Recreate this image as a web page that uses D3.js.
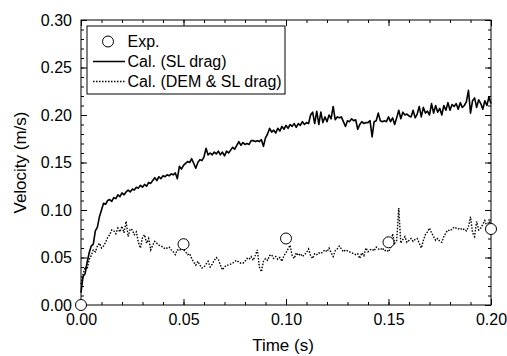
<!DOCTYPE html>
<html><head><meta charset="utf-8">
<script src="https://cdn.jsdelivr.net/npm/d3@7"></script>
<style>
body{margin:0;background:#fff;}
svg{display:block;font-family:Arial,"Liberation Sans",sans-serif;}
</style></head>
<body><svg id="c" width="507" height="356"></svg>
<script>
// time step 0.001 s, t = 0.000 .. 0.200
const timeStart = 0, timeStep = 0.001;
const slDrag = [
0.013,0.030,0.033,0.045,0.055,0.062,0.064,0.078,0.082,0.093,
0.100,0.107,0.106,0.110,0.111,0.109,0.113,0.112,0.116,0.114,
0.118,0.116,0.119,0.121,0.119,0.122,0.121,0.124,0.123,0.126,
0.124,0.127,0.125,0.129,0.128,0.131,0.134,0.131,0.135,0.133,
0.136,0.135,0.137,0.136,0.138,0.137,0.139,0.133,0.146,0.143,
0.147,0.149,0.151,0.150,0.154,0.149,0.144,0.150,0.153,0.152,
0.156,0.165,0.158,0.160,0.158,0.161,0.159,0.162,0.158,0.161,
0.157,0.162,0.160,0.163,0.166,0.164,0.168,0.172,0.168,0.171,
0.169,0.170,0.169,0.173,0.173,0.172,0.173,0.172,0.174,0.167,
0.176,0.180,0.186,0.182,0.184,0.181,0.186,0.183,0.188,0.185,
0.189,0.186,0.190,0.188,0.191,0.187,0.191,0.189,0.193,0.190,
0.192,0.191,0.200,0.203,0.191,0.204,0.190,0.203,0.192,0.198,
0.193,0.200,0.196,0.209,0.195,0.198,0.197,0.198,0.193,0.188,
0.194,0.193,0.196,0.194,0.195,0.185,0.190,0.193,0.191,0.192,
0.192,0.194,0.177,0.193,0.194,0.202,0.194,0.193,0.194,0.193,
0.198,0.193,0.197,0.190,0.197,0.205,0.196,0.203,0.200,0.201,
0.199,0.198,0.205,0.197,0.201,0.209,0.198,0.208,0.202,0.204,
0.200,0.212,0.202,0.210,0.203,0.207,0.200,0.210,0.205,0.213,
0.205,0.211,0.209,0.212,0.206,0.213,0.208,0.210,0.214,0.226,
0.202,0.215,0.218,0.208,0.216,0.212,0.206,0.215,0.210,0.219,
0.212];
const demSlDrag = [
0.022,0.032,0.040,0.038,0.048,0.052,0.058,0.056,0.062,0.065,
0.060,0.062,0.066,0.071,0.074,0.079,0.078,0.075,0.081,0.077,
0.083,0.076,0.088,0.072,0.080,0.079,0.074,0.077,0.066,0.060,
0.071,0.074,0.065,0.070,0.058,0.063,0.067,0.065,0.063,0.062,
0.061,0.059,0.060,0.061,0.058,0.056,0.053,0.058,0.057,0.060,
0.058,0.056,0.053,0.054,0.049,0.045,0.042,0.046,0.042,0.039,
0.040,0.043,0.046,0.040,0.043,0.047,0.050,0.048,0.042,0.037,
0.040,0.042,0.042,0.043,0.044,0.046,0.047,0.045,0.044,0.044,
0.046,0.049,0.048,0.051,0.047,0.052,0.058,0.040,0.035,0.046,
0.049,0.047,0.052,0.053,0.049,0.051,0.048,0.050,0.046,0.052,
0.055,0.059,0.063,0.052,0.049,0.055,0.052,0.054,0.051,0.053,
0.055,0.059,0.052,0.049,0.054,0.053,0.055,0.054,0.056,0.058,
0.056,0.060,0.055,0.051,0.057,0.059,0.062,0.059,0.056,0.058,
0.057,0.056,0.055,0.054,0.053,0.054,0.049,0.055,0.052,0.060,
0.056,0.058,0.059,0.057,0.061,0.059,0.058,0.060,0.057,0.058,
0.056,0.060,0.075,0.065,0.068,0.102,0.065,0.069,0.072,0.066,
0.068,0.070,0.067,0.069,0.070,0.065,0.060,0.068,0.074,0.077,
0.081,0.076,0.072,0.068,0.070,0.067,0.066,0.072,0.076,0.079,
0.078,0.080,0.082,0.081,0.080,0.081,0.079,0.080,0.078,0.082,
0.093,0.076,0.072,0.088,0.079,0.081,0.085,0.089,0.083,0.088,
0.086];
const expTime = [0.00, 0.05, 0.10, 0.15, 0.20];
const expVel  = [0.000, 0.064, 0.070, 0.066, 0.080];
const xMajor = [0.00, 0.05, 0.10, 0.15, 0.20];
const yMajor = [0.00, 0.05, 0.10, 0.15, 0.20, 0.25, 0.30];
const legendLabels = ["Exp.", "Cal. (SL drag)", "Cal. (DEM & SL drag)"];
const xTitle = "Time (s)", yTitle = "Velocity (m/s)";

const svg = d3.select("#c");
const L = 81, R = 491, T = 20, B = 305;
const x = d3.scaleLinear().domain([0, 0.2]).range([L, R]);
const y = d3.scaleLinear().domain([0, 0.3]).range([B, T]);
const fmt = d3.format(".2f");
const xMinor = d3.range(0, 0.2001, 0.01).map(v => +v.toFixed(3));
const yMinor = d3.range(0, 0.3001, 0.01).map(v => +v.toFixed(3));

function styleAxis(g){
  g.select(".domain").remove();
  g.selectAll("line").attr("stroke", "#000").attr("stroke-width", 1);
  g.selectAll("text").attr("fill", "#000").attr("font-size", 16);
}
// bottom
svg.append("g").attr("transform", `translate(0,${B})`)
  .call(d3.axisBottom(x).tickValues(xMinor).tickSize(-3).tickFormat("")).call(styleAxis);
svg.append("g").attr("transform", `translate(0,${B})`)
  .call(d3.axisBottom(x).tickValues(xMajor).tickSize(-6).tickPadding(9).tickFormat(fmt)).call(styleAxis);
// top
svg.append("g").attr("transform", `translate(0,${T})`)
  .call(d3.axisTop(x).tickValues(xMinor).tickSize(-3).tickFormat("")).call(styleAxis);
svg.append("g").attr("transform", `translate(0,${T})`)
  .call(d3.axisTop(x).tickValues(xMajor).tickSize(-6).tickFormat("")).call(styleAxis);
// left
svg.append("g").attr("transform", `translate(${L},0)`)
  .call(d3.axisLeft(y).tickValues(yMinor).tickSize(-3).tickFormat("")).call(styleAxis);
svg.append("g").attr("transform", `translate(${L},0)`)
  .call(d3.axisLeft(y).tickValues(yMajor).tickSize(-6).tickPadding(9).tickFormat(fmt)).call(styleAxis);
// right
svg.append("g").attr("transform", `translate(${R},0)`)
  .call(d3.axisRight(y).tickValues(yMinor).tickSize(-3).tickFormat("")).call(styleAxis);
svg.append("g").attr("transform", `translate(${R},0)`)
  .call(d3.axisRight(y).tickValues(yMajor).tickSize(-6).tickFormat("")).call(styleAxis);

// frame
svg.append("rect").attr("x", L).attr("y", T).attr("width", R - L).attr("height", B - T)
  .attr("fill", "none").attr("stroke", "#000").attr("stroke-width", 1);

const line = d3.line().x((d, i) => x(timeStart + i * timeStep)).y(d => y(d));
svg.append("path").datum(slDrag).attr("d", line)
  .attr("fill", "none").attr("stroke", "#000").attr("stroke-width", 1.6).attr("stroke-linejoin", "round");
svg.append("path").datum(demSlDrag).attr("d", line)
  .attr("fill", "none").attr("stroke", "#000").attr("stroke-width", 1.4).attr("stroke-dasharray", "1.5,1.5");

svg.selectAll("circle.exp").data(expTime).enter().append("circle").attr("class", "exp")
  .attr("cx", d => x(d)).attr("cy", (d, i) => y(expVel[i])).attr("r", 5.5)
  .attr("fill", "#fff").attr("stroke", "#000").attr("stroke-width", 1);

// legend
const lg = svg.append("g");
lg.append("rect").attr("x", 87).attr("y", 26).attr("width", 198).attr("height", 68)
  .attr("fill", "#fff").attr("stroke", "#000").attr("stroke-width", 1);
lg.append("circle").attr("cx", 108).attr("cy", 41.5).attr("r", 5.5)
  .attr("fill", "#fff").attr("stroke", "#000");
lg.append("line").attr("x1", 93).attr("x2", 125).attr("y1", 61.5).attr("y2", 61.5)
  .attr("stroke", "#000").attr("stroke-width", 1.5);
lg.append("line").attr("x1", 93).attr("x2", 125).attr("y1", 81.5).attr("y2", 81.5)
  .attr("stroke", "#000").attr("stroke-width", 1.4).attr("stroke-dasharray", "1.5,1.5");
lg.selectAll("text").data(legendLabels).enter().append("text")
  .attr("x", 127.5).attr("y", (d, i) => 47 + i * 20).attr("font-size", 16).text(d => d);

// titles
svg.append("text").attr("x", 283).attr("y", 351).attr("text-anchor", "middle")
  .attr("font-size", 17).text(xTitle);
svg.append("text").attr("transform", `translate(26,${(T + B) / 2}) rotate(-90)`)
  .attr("text-anchor", "middle").attr("font-size", 17).text(yTitle);
</script></body></html>
